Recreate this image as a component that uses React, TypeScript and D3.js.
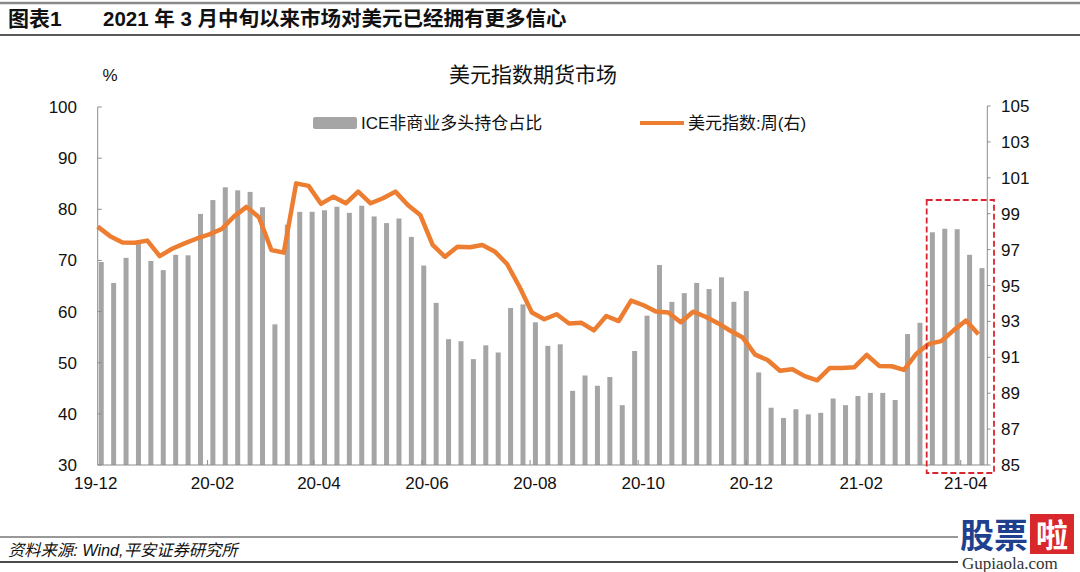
import React from "react";
import * as d3 from "d3";

// ICE non-commercial long share (%) — weekly (Tuesdays)
const barValues: number[] = [
  69.7, 65.6, 70.5, 73.2, 69.9, 68.1, 71.1, 71.0, 79.1, 81.8,
  84.3, 83.7, 83.4, 80.4, 57.5, 77.0, 79.5, 79.5, 79.8, 80.5,
  79.3, 80.7, 78.6, 77.3, 78.2, 74.6, 69.0, 61.7, 54.6, 54.2,
  50.7, 53.4, 52.0, 60.7, 61.4, 57.9, 53.3, 53.6, 44.5, 47.5,
  45.5, 47.2, 41.7, 52.3, 59.2, 69.1, 61.9, 63.6, 65.6, 64.4,
  66.7, 61.9, 64.0, 48.1, 41.2, 39.2, 40.9, 39.9, 40.2, 43.0,
  41.7, 43.5, 44.1, 44.1, 42.7, 55.6, 57.8, 75.5, 76.2, 76.1,
  71.1, 68.5,
];

// US dollar index, weekly (right axis)
const lineValues: number[] = [
  98.28, 97.75, 97.4, 97.38, 97.5, 96.64, 97.05, 97.35, 97.62, 97.85,
  98.15, 98.85, 99.38, 98.8, 96.98, 96.83, 100.69, 100.55, 99.55, 99.95,
  99.58, 100.23, 99.58, 99.86, 100.23, 99.48, 98.93, 97.26, 96.6, 97.16,
  97.13, 97.26, 96.9, 96.2, 94.93, 93.5, 93.12, 93.4, 92.88, 92.92,
  92.5, 93.3, 93.02, 94.16, 93.9, 93.55, 93.5, 92.95, 93.54, 93.26,
  92.9, 92.48, 92.1, 91.15, 90.85, 90.25, 90.33, 89.95, 89.72, 90.4,
  90.4, 90.45, 91.13, 90.52, 90.5, 90.3, 91.2, 91.75, 91.9, 92.5,
  93.05, 92.28,
];

const leftTicks = [30, 40, 50, 60, 70, 80, 90, 100];
const rightTicks = [85, 87, 89, 91, 93, 95, 97, 99, 101, 103, 105];
const xTickMonths = [
  "2019-12-01", "2020-02-01", "2020-04-01", "2020-06-01", "2020-08-01",
  "2020-10-01", "2020-12-01", "2021-02-01", "2021-04-01",
];

const chartTitle = "美元指数期货市场";
const figLabel = "图表1";
const figTitle = "2021 年 3 月中旬以来市场对美元已经拥有更多信心";
const barName = "ICE非商业多头持仓占比";
const lineName = "美元指数:周(右)";
const sourceText = "资料来源: Wind,平安证券研究所";

const barStart = new Date(2019, 11, 3);
const lineStart = new Date(2019, 11, 1);
const barDates = barValues.map((_, i) => d3.timeDay.offset(barStart, i * 7));
const lineDates = lineValues.map((_, i) => d3.timeDay.offset(lineStart, i * 7));

const FONT = "'Liberation Sans', Arial, 'Noto Sans CJK SC', sans-serif";
const GRAY_BAR = "#A5A5A5";
const ORANGE = "#ED7D31";
const AXIS = "#8C8C8C";

export default function App() {
  const x = d3
    .scaleTime()
    .domain([new Date(2019, 11, 1), new Date(2021, 3, 16)])
    .range([97.7, 987.3]);
  const yL = d3.scaleLinear().domain([30, 100]).range([465, 107]);
  const yR = d3.scaleLinear().domain([85, 105]).range([465, 106]);

  const line = d3
    .line<number>()
    .x((_, i) => x(lineDates[i]))
    .y((d) => yR(d));

  const tickDates = xTickMonths.map((s) => d3.timeParse("%Y-%m-%d")(s) as Date);
  const fmt = d3.timeFormat("%y-%m");
  const barW = 5;

  return (
    <svg
      width={1080}
      height={572}
      style={{ position: "absolute", left: 0, top: 0, background: "#fff" }}
      fontFamily={FONT}
    >
      <rect x={0} y={0} width={1080} height={572} fill="#fff" />
      {/* header */}
      <line x1={0} x2={1080} y1={3} y2={3} stroke="#8a8a8a" strokeWidth={2.5} />
      <line x1={0} x2={1080} y1={35} y2={35} stroke="#222" strokeWidth={1.5} />
      <text x={8} y={26} fontSize={21} fontWeight="bold" fill="#111">{figLabel}</text>
      <text x={103} y={26} fontSize={20.5} fontWeight="bold" fill="#111">{figTitle}</text>

      {/* chart title */}
      <text x={533} y={82} fontSize={21} textAnchor="middle" fill="#111">{chartTitle}</text>
      <text x={110} y={81} fontSize={17} textAnchor="middle" fill="#111">%</text>

      {/* legend */}
      <rect x={313} y={117} width={44} height={12} rx={2} fill={GRAY_BAR} />
      <text x={361} y={129} fontSize={17} fill="#111">{barName}</text>
      <line x1={640} x2={684} y1={123} y2={123} stroke={ORANGE} strokeWidth={4} />
      <text x={688} y={129} fontSize={17} fill="#111">{lineName}</text>

      {/* bars */}
      {barValues.map((v, i) => (
        <rect
          key={i}
          x={x(barDates[i]) - barW / 2}
          y={yL(v)}
          width={barW}
          height={yL(30) - yL(v)}
          fill={GRAY_BAR}
        />
      ))}

      {/* line */}
      <path
        d={line(lineValues) || ""}
        fill="none"
        stroke={ORANGE}
        strokeWidth={4.5}
        strokeLinejoin="round"
      />

      {/* axes */}
      <line x1={97.7} x2={97.7} y1={107} y2={465} stroke={AXIS} strokeWidth={1} />
      <line x1={987.3} x2={987.3} y1={106} y2={465} stroke={AXIS} strokeWidth={1} />
      <line x1={97.7} x2={987.3} y1={465} y2={465} stroke={AXIS} strokeWidth={1} />

      {leftTicks.map((t) => (
        <g key={"l" + t}>
          <line x1={97.7} x2={101.7} y1={yL(t)} y2={yL(t)} stroke={AXIS} />
          <text x={77} y={yL(t) + 6} fontSize={17} textAnchor="end" fill="#111">{t}</text>
        </g>
      ))}
      {rightTicks.map((t) => (
        <g key={"r" + t}>
          <line x1={987.3} x2={990.5} y1={yR(t)} y2={yR(t)} stroke={AXIS} />
          <text x={1001} y={yR(t) + 6} fontSize={17} textAnchor="start" fill="#111">{t}</text>
        </g>
      ))}
      {tickDates.map((d, i) => (
        <g key={"x" + i}>
          {i > 0 && (
            <line x1={x(d)} x2={x(d)} y1={465} y2={460} stroke={AXIS} />
          )}
          <text
            x={i === 0 ? x(d) - 2 : x(d) + 5}
            y={489}
            fontSize={17}
            textAnchor="middle"
            fill="#111"
          >
            {fmt(d)}
          </text>
        </g>
      ))}

      {/* highlight box */}
      <rect
        x={926.7}
        y={200}
        width={67.3}
        height={273}
        fill="none"
        stroke="#D9262E"
        strokeWidth={1.8}
        strokeDasharray="6,3"
      />

      {/* footer */}
      <line x1={0} x2={958} y1={537} y2={537} stroke="#333" strokeWidth={1} />
      <line x1={0} x2={958} y1={562} y2={562} stroke="#111" strokeWidth={1.5} />
      <text x={8} y={556} fontSize={16.3} fontStyle="italic" fill="#111">{sourceText}</text>

      {/* watermark */}
      <text x={960} y={548} fontSize={34} fontWeight="bold" fill="#1f3f8f">股票</text>
      <rect x={1030} y={514} width={44} height={40} fill="#d8282c" />
      <text x={1052} y={547} fontSize={32} fontWeight="bold" fill="#fff" textAnchor="middle">啦</text>
      <text x={962} y={569} fontSize={17} fill="#333" fontFamily="'Liberation Serif', serif">Gupiaola.com</text>
    </svg>
  );
}
